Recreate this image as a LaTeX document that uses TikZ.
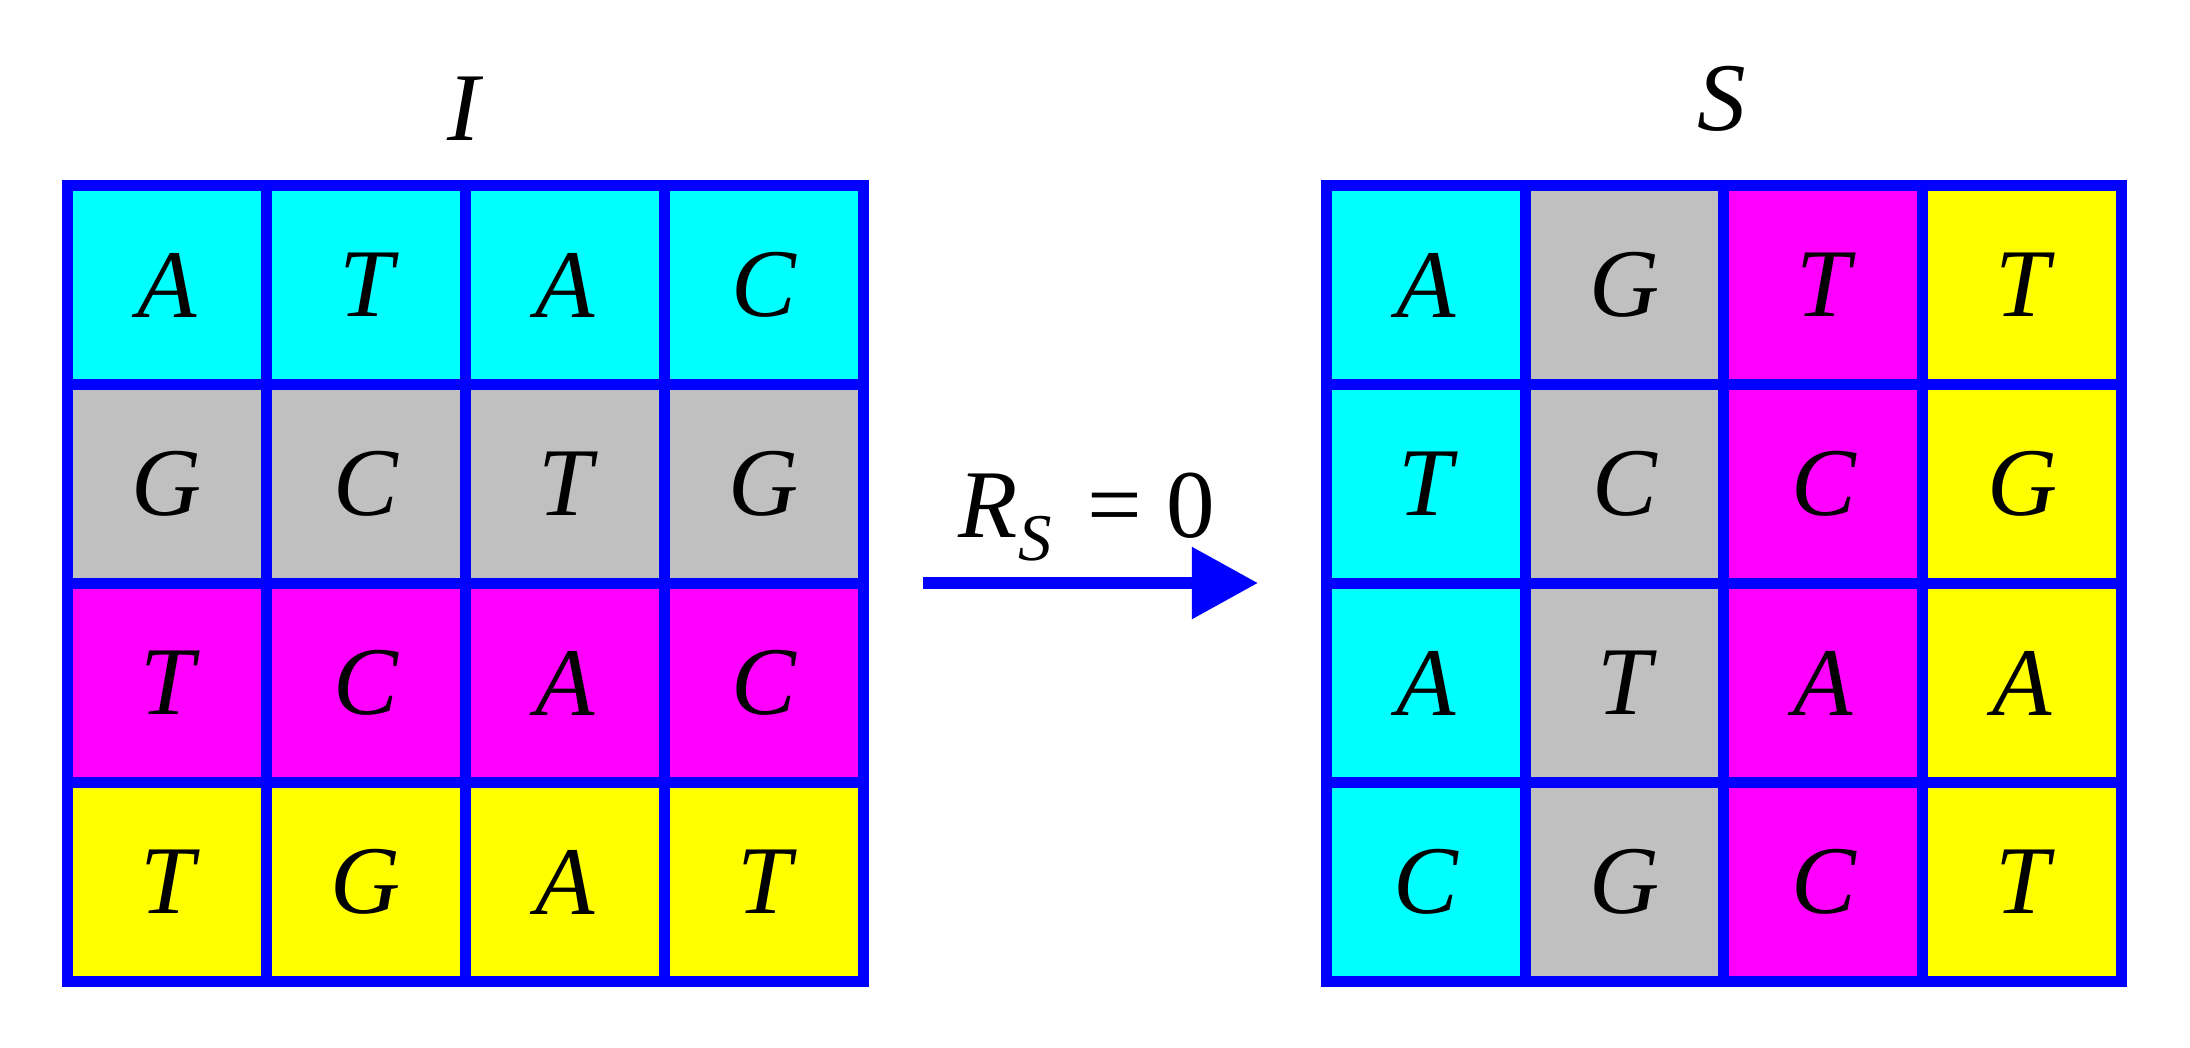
\documentclass[tikz,border=0pt]{standalone}
\usepackage{fontspec}
\setmainfont{Liberation Serif}[ItalicFont={Liberation Serif Italic}]
\usetikzlibrary{arrows.meta}
\definecolor{cellcyan}{RGB}{0,255,255}
\definecolor{cellgray}{RGB}{192,192,192}
\definecolor{cellmag}{RGB}{255,0,255}
\definecolor{cellyel}{RGB}{255,255,0}
\definecolor{gridblue}{RGB}{0,0,255}
\begin{document}
\begin{tikzpicture}[x=0.01cm,y=-0.01cm,
  cellbox/.style={draw=gridblue,line width=0.11cm,minimum width=1.99cm,minimum height=1.99cm,
    inner sep=0pt,font=\itshape\fontsize{27.6}{30}\selectfont},
  titletext/.style={font=\itshape\fontsize{27.6}{30}\selectfont,inner sep=0pt},
  bluearrow/.style={draw=gridblue,line width=0.12cm,-{Triangle[length=0.66cm,width=0.69cm]}}]
\useasboundingbox (0,0) rectangle (2190,1047);
% left grid I
\foreach \r/\col/\letters in {1/cellcyan/{A,T,A,C},2/cellgray/{G,C,T,G},3/cellmag/{T,C,A,C},4/cellyel/{T,G,A,T}}{
  \foreach \L [count=\c] in \letters {
    \node[cellbox,fill=\col] (I-\r-\c) at ({67.5+199*(\c-0.5)},{185.5+199*(\r-0.5)}) {\L};
  }
}
% right grid S
\foreach \r/\letters in {1/{A,G,T,T},2/{T,C,C,G},3/{A,T,A,A},4/{C,G,C,T}}{
  \foreach \L [count=\c] in \letters {
    \ifcase\c\or\def\cc{cellcyan}\or\def\cc{cellgray}\or\def\cc{cellmag}\or\def\cc{cellyel}\fi
    \node[cellbox,fill=\cc] (S-\r-\c) at ({1326.5+198.75*(\c-0.5)},{185.5+199*(\r-0.5)}) {\L};
  }
}
% titles
\node[titletext,anchor=base] (titleI) at (464,140) {I};
\node[titletext,anchor=base] (titleS) at (1722,130) {S};
% arrow
\coordinate (arrA) at (923,583);
\coordinate (arrB) at (1258,583);
\draw[bluearrow] (arrA) -- (arrB);
\node[anchor=base west,inner sep=0pt,font=\fontsize{27.6}{30}\selectfont] (rlabel) at (958,537)
  {\textit{R}\raisebox{-0.23cm}{\fontsize{19}{20}\selectfont\textit{S}}\hspace{0.36cm}=\hspace{0.24cm}0};
\end{tikzpicture}
\end{document}
